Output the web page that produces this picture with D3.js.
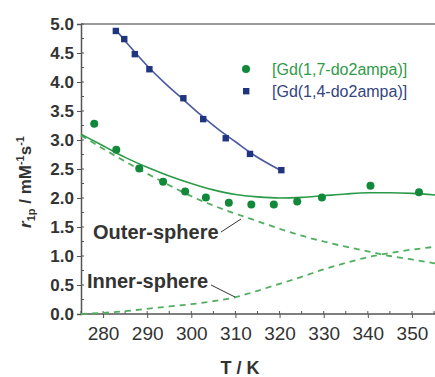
<!DOCTYPE html>
<html>
<head>
<meta charset="utf-8">
<script src="https://cdn.jsdelivr.net/npm/d3@7"></script>
<style>
  body { margin: 0; background: #fff; }
  svg { display: block; font-family: "Liberation Sans", Arial, sans-serif; }
</style>
</head>
<body>
<svg id="container"></svg>
<script>
// green series, [Gd(1,7-do2ampa)]
const tGreen = [278, 283, 288.2, 293.6, 298.6, 303.3, 308.5, 313.6, 318.7, 324, 329.6, 340.6, 351.6]
const rGreen = [3.28, 2.83, 2.51, 2.28, 2.11, 2.01, 1.92, 1.89, 1.89, 1.94, 2.01, 2.21, 2.10]

// blue series, [Gd(1,4-do2ampa)]
const tBlue = [282.9, 284.8, 287.2, 290.5, 298.2, 302.7, 307.8, 313.3, 320.4]
const rBlue = [4.88, 4.74, 4.48, 4.22, 3.72, 3.36, 3.03, 2.76, 2.48]

// fitted curves
const tFitBlue = [282.7, 286, 290, 294, 298, 302, 306, 310, 314, 320.4]
const rFitBlue = [4.92, 4.62, 4.28, 3.98, 3.71, 3.44, 3.19, 2.97, 2.75, 2.47]

const tFit = [275, 280, 285, 290, 295, 300, 305, 310, 315, 320, 325, 330, 335, 340, 345, 350, 355.5]
const rTotal = [3.10, 2.90, 2.70, 2.53, 2.38, 2.25, 2.14, 2.06, 2.02, 2.00, 2.01, 2.04, 2.07, 2.09, 2.09, 2.08, 2.05]
const rOuter = [3.08, 2.85, 2.63, 2.42, 2.22, 2.03, 1.87, 1.73, 1.60, 1.47, 1.35, 1.25, 1.16, 1.08, 1.00, 0.94, 0.87]
const rInner = [0.00, 0.02, 0.05, 0.09, 0.13, 0.17, 0.22, 0.29, 0.40, 0.52, 0.64, 0.77, 0.88, 0.98, 1.05, 1.11, 1.16]

const legendLabels = ["[Gd(1,7-do2ampa)]", "[Gd(1,4-do2ampa)]"]
const xTicks = [280, 290, 300, 310, 320, 330, 340, 350]
const yTicks = [0, 0.5, 1, 1.5, 2, 2.5, 3, 3.5, 4, 4.5, 5]

const green = "#12883a"
const greenLine = "#2a9a48"
const greenDash = "#4fae5f"
const blue = "#1f3580"
const blueLine = "#4a5aa2"
const axisCol = "#555"

const setup = () => {
	const width = 435, height = 377
	const svg = d3.select("#container").attr("width", width).attr("height", height)

	const x = d3.scaleLinear().domain([275, 355]).range([81, 434])
	const y = d3.scaleLinear().domain([0, 5]).range([314, 24])

	const line = d3.line()
	               .x(d => x(d[0]))
	               .y(d => y(d[1]))
	               .curve(d3.curveMonotoneX)

	// top frame
	svg.append("line")
	   .attr("x1", x(275)).attr("x2", width)
	   .attr("y1", y(5)).attr("y2", y(5))
	   .attr("stroke", "#777").attr("stroke-width", 1.5)

	// x axis, major ticks out, minor ticks in
	const xAxis = svg.append("g").attr("transform", `translate(0,${y(0)})`)
	xAxis.call(d3.axisBottom(x).tickValues(xTicks).tickSize(4).tickPadding(9).tickFormat(d3.format("d")))
	xAxis.append("g").selectAll("line").data(d3.range(275, 356, 5)).join("line")
	     .attr("x1", d => x(d)).attr("x2", d => x(d))
	     .attr("y1", 0).attr("y2", -3)
	     .attr("stroke", axisCol)
	xAxis.select(".domain").attr("stroke", axisCol).attr("stroke-width", 1.5).attr("d", `M${x(275)},0H${width}`)
	xAxis.selectAll(".tick line").attr("stroke", axisCol)
	xAxis.selectAll(".tick text").attr("font-size", 19).attr("fill", "#333")

	// y axis
	const yAxis = svg.append("g").attr("transform", `translate(${x(275)},0)`)
	yAxis.call(d3.axisLeft(y).tickValues(yTicks).tickSize(4).tickPadding(3).tickFormat(d3.format(".1f")))
	yAxis.append("g").selectAll("line").data(d3.range(0, 5.01, 0.25)).join("line")
	     .attr("x1", 0).attr("x2", 3)
	     .attr("y1", d => y(d)).attr("y2", d => y(d))
	     .attr("stroke", axisCol)
	yAxis.select(".domain").attr("stroke", axisCol).attr("stroke-width", 1.5)
	yAxis.selectAll(".tick line").attr("stroke", axisCol)
	yAxis.selectAll(".tick text").attr("font-size", 17).attr("font-weight", "bold").attr("fill", "#333")

	// axis titles
	svg.append("text")
	   .attr("x", 240).attr("y", 374)
	   .attr("text-anchor", "middle")
	   .attr("font-size", 18).attr("font-weight", "bold").attr("fill", "#333")
	   .text("T / K")

	const yTitle = svg.append("text")
	   .attr("transform", "translate(31,182) rotate(-90)")
	   .attr("text-anchor", "middle")
	   .attr("font-size", 17).attr("font-weight", "bold").attr("fill", "#333")
	yTitle.append("tspan").attr("font-style", "italic").text("r")
	yTitle.append("tspan").attr("font-size", 11).attr("dy", 4).text("1p")
	yTitle.append("tspan").attr("dy", -4).text(" / mM")
	yTitle.append("tspan").attr("font-size", 11).attr("dy", -7).text("-1")
	yTitle.append("tspan").attr("dy", 7).text("s")
	yTitle.append("tspan").attr("font-size", 11).attr("dy", -7).text("-1")

	const plot = svg.append("g")

	// dashed contributions
	plot.append("path")
	    .attr("d", line(d3.zip(tFit, rOuter)))
	    .attr("fill", "none").attr("stroke", greenDash)
	    .attr("stroke-width", 1.8).attr("stroke-dasharray", "6,5")
	plot.append("path")
	    .attr("d", line(d3.zip(tFit, rInner)))
	    .attr("fill", "none").attr("stroke", greenDash)
	    .attr("stroke-width", 1.8).attr("stroke-dasharray", "6,5")

	// total fit
	plot.append("path")
	    .attr("d", line(d3.zip(tFit, rTotal)))
	    .attr("fill", "none").attr("stroke", greenLine).attr("stroke-width", 1.6)

	plot.append("path")
	    .attr("d", line(d3.zip(tFitBlue, rFitBlue)))
	    .attr("fill", "none").attr("stroke", blueLine).attr("stroke-width", 1.6)

	plot.selectAll("circle.g").data(d3.zip(tGreen, rGreen)).join("circle")
	    .attr("cx", d => x(d[0])).attr("cy", d => y(d[1]))
	    .attr("r", 4).attr("fill", green)

	plot.selectAll("rect.b").data(d3.zip(tBlue, rBlue)).join("rect")
	    .attr("x", d => x(d[0]) - 3.2).attr("y", d => y(d[1]) - 3.2)
	    .attr("width", 6.4).attr("height", 6.4).attr("fill", blue)

	// annotations
	svg.append("text").attr("x", 93).attr("y", 239)
	   .attr("font-size", 20).attr("font-weight", "bold").attr("fill", "#333")
	   .text("Outer-sphere")
	svg.append("line").attr("x1", 221).attr("y1", 232).attr("x2", 241).attr("y2", 219)
	   .attr("stroke", "#333").attr("stroke-width", 1)
	svg.append("text").attr("x", 87).attr("y", 288)
	   .attr("font-size", 20).attr("font-weight", "bold").attr("fill", "#333")
	   .text("Inner-sphere")
	svg.append("line").attr("x1", 211).attr("y1", 285).attr("x2", 235).attr("y2", 297)
	   .attr("stroke", "#333").attr("stroke-width", 1)

	// legend
	const leg = svg.append("g")
	leg.append("circle").attr("cx", 246).attr("cy", 69).attr("r", 4).attr("fill", green)
	leg.append("rect").attr("x", 243).attr("y", 88).attr("width", 6.4).attr("height", 6.4).attr("fill", blue)
	leg.append("text").attr("x", 272).attr("y", 75)
	   .attr("font-size", 16).attr("fill", "#2f9a48").text(legendLabels[0])
	leg.append("text").attr("x", 272).attr("y", 97)
	   .attr("font-size", 16).attr("fill", "#33447f").text(legendLabels[1])
}

document.addEventListener("DOMContentLoaded", setup)
</script>
</body>
</html>
